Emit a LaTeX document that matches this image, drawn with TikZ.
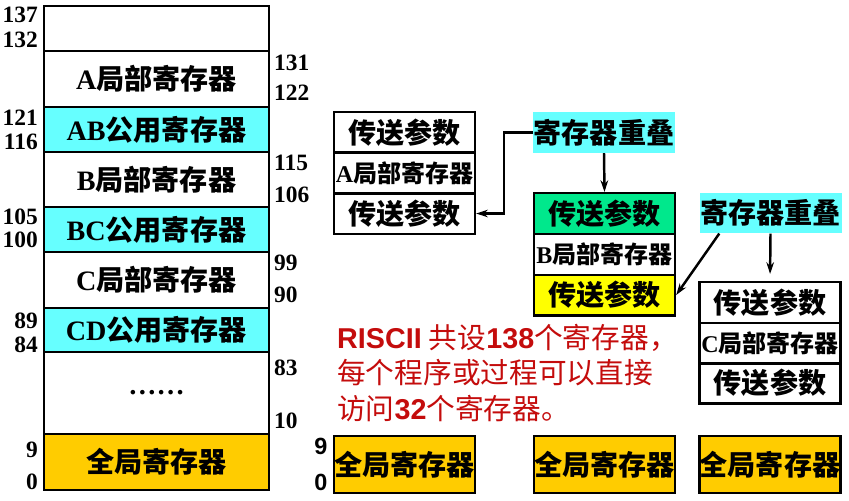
\documentclass[tikz,border=0pt]{standalone}
\usepackage{fontspec}
\setmainfont{Liberation Serif}
\newfontfamily\cjk{Noto Sans CJK SC}
\newfontfamily\sfnum{Liberation Sans}
\usepackage{xcolor}
\usetikzlibrary{arrows.meta}

\definecolor{pubcyan}{RGB}{102,255,255}
\definecolor{globorange}{RGB}{255,204,0}
\definecolor{paramgreen}{RGB}{0,232,140}
\definecolor{paramyellow}{RGB}{255,255,0}
\definecolor{noteRed}{RGB}{196,12,12}

\begin{document}
\begin{tikzpicture}[x = 0.03cm, y = -0.03cm,
    reg/.style = {draw, line width = 2pt, inner sep = 0pt, minimum width = 6.75cm, font = \fontsize{24}{28}\selectfont\bfseries},
    win/.style = {draw, line width = 2pt, inner sep = 0pt, minimum width = 4.23cm, minimum height = 1.22cm, font = \fontsize{24}{28}\selectfont\bfseries},
    winsmall/.style = {win, font = \fontsize{20.5}{24}\selectfont\bfseries},
    overlap/.style = {fill = pubcyan, inner sep = 0pt, minimum width = 4.26cm, minimum height = 1.22cm, font = \fontsize{24}{28}\selectfont\bfseries},
    num/.style = {inner sep = 0pt, font = \fontsize{20}{22}\selectfont\bfseries},
    arr/.style = {-{Stealth[length = 10pt, width = 6.5pt]}, line width = 2.1pt}]
    \useasboundingbox (0,0) rectangle (849,500);

    % register file, 138 registers
    \node[reg, minimum height = 1.35cm](rTop) at (156.5,28.5) {};
    \node[reg, minimum height = 1.68cm](rA) at (156.5,79) {A\cjk 局部寄存器};
    \node[reg, fill = pubcyan, minimum height = 1.35cm](rAB) at (156.5,129.5) {AB\cjk 公用寄存器};
    \node[reg, minimum height = 1.65cm](rB) at (156.5,179.5) {B\cjk 局部寄存器};
    \node[reg, fill = pubcyan, minimum height = 1.35cm](rBC) at (156.5,229.5) {BC\cjk 公用寄存器};
    \node[reg, minimum height = 1.68cm](rC) at (156.5,280) {C\cjk 局部寄存器};
    \node[reg, fill = pubcyan, minimum height = 1.32cm](rCD) at (156.5,330) {CD\cjk 公用寄存器};
    \node[reg, minimum height = 2.46cm](rDots) at (156.5,393) {……};
    \node[reg, fill = globorange, minimum height = 1.68cm](rGlob) at (156.5,462) {\cjk 全局寄存器};

    \foreach \n/\y in {137/15,132/40,121/118,116/142,105/217,100/240,89/321,84/345,9/450,0/482}
        \node[num, anchor = east](nl\n) at (38,\y) {\n};
    \foreach \n/\y in {131/63,122/93,115/163,106/195,99/263,90/295,83/368,10/421}
        \node[num, anchor = west](nr\n) at (274,\y) {\n};

    % windows of procedures A, B, C
    \node[win](wA1) at (404.5,132.5) {\cjk 传送参数};
    \node[winsmall](wA2) at (404.5,173) {A\cjk 局部寄存器};
    \node[win](wA3) at (404.5,213.5) {\cjk 传送参数};

    \node[win, fill = paramgreen](wB1) at (604.5,213.5) {\cjk 传送参数};
    \node[winsmall](wB2) at (604.5,254.5) {B\cjk 局部寄存器};
    \node[win, fill = paramyellow](wB3) at (604.5,295) {\cjk 传送参数};

    \node[win](wC1) at (770,302.5) {\cjk 传送参数};
    \node[winsmall](wC2) at (770,343) {C\cjk 局部寄存器};
    \node[win](wC3) at (770,383) {\cjk 传送参数};

    \node[win, fill = globorange, minimum height = 1.71cm](gA) at (404.5,464.5) {\cjk 全局寄存器};
    \node[win, fill = globorange, minimum height = 1.71cm](gB) at (604.5,464.5) {\cjk 全局寄存器};
    \node[win, fill = globorange, minimum height = 1.71cm](gC) at (770,464.5) {\cjk 全局寄存器};
    \node[inner sep = 0pt, font = \fontsize{20}{22}\selectfont\sfnum\bfseries](g9) at (321,446) {9};
    \node[inner sep = 0pt, font = \fontsize{20}{22}\selectfont\sfnum\bfseries](g0) at (321,482) {0};

    \node[overlap](ovAB) at (604,132.5) {\cjk 寄存器重叠};
    \node[overlap](ovBC) at (770.5,213) {\cjk 寄存器重叠};

    \draw [arr] (ovAB.west) -- ++(-29,0) |- (wA3.east);
    \draw [arr] (ovAB.south) -- (wB1.north);
    \draw [arr] (ovBC.south west) ++(20,0) -- (wB3.east);
    \draw [arr, shorten > = 6pt] (ovBC.south) -- (wC1.north);

    \node[anchor = west, align = left, text = noteRed, inner sep = 0pt, font = \fontsize{24.5}{30}\selectfont](note) at (337,373)
        {{\sfnum\bfseries RISCII} \cjk 共设{\sfnum\bfseries 138}个寄存器，\\\cjk 每个程序或过程可以直接\\\cjk 访问{\sfnum\bfseries 32}个寄存器。};
\end{tikzpicture}
\end{document}
